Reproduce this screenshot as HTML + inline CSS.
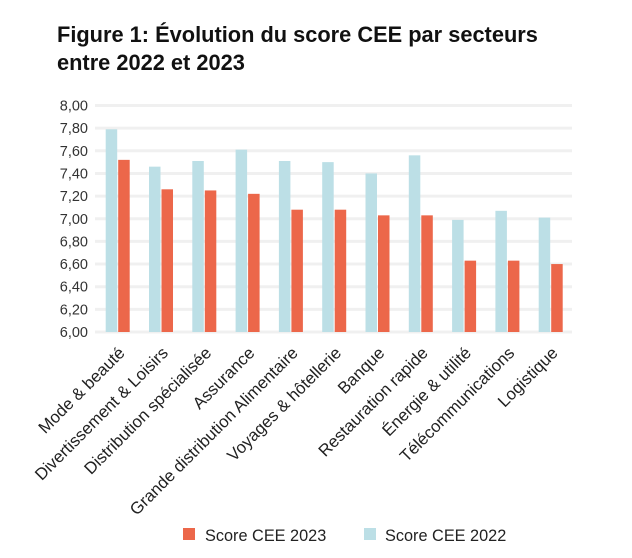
<!DOCTYPE html>
<html><head><meta charset="utf-8"><style>
body{margin:0;background:#fff;font-family:"Liberation Sans",Arial,sans-serif;}
#wrap{position:relative;width:632px;height:558px;overflow:hidden;}
h1{position:absolute;left:57px;top:21px;margin:0;font-size:21.8px;line-height:28px;font-weight:bold;color:#111;}
</style></head><body>
<div id="wrap">
<h1>Figure 1: Évolution du score CEE par secteurs<br>entre 2022 et 2023</h1>
<svg id="chart" width="632" height="558" style="position:absolute;left:0;top:0"></svg>
</div>
<script>
const categories=["Mode & beauté","Divertissement & Loisirs","Distribution spécialisée","Assurance","Grande distribution Alimentaire","Voyages & hôtellerie","Banque","Restauration rapide","Énergie & utilité","Télécommunications","Logistique"];
const values2022=[7.79,7.46,7.51,7.61,7.51,7.50,7.40,7.56,6.99,7.07,7.01];
const values2023=[7.52,7.26,7.25,7.22,7.08,7.08,7.03,7.03,6.63,6.63,6.60];
const yTicks=[6.0,6.2,6.4,6.6,6.8,7.0,7.2,7.4,7.6,7.8,8.0];
const NS="http://www.w3.org/2000/svg";
const svg=document.getElementById('chart');
const y0=332,y1=105.5,vmin=6,vmax=8;
function y(v){return y0-(v-vmin)/(vmax-vmin)*(y0-y1);}
function gx(i){return 105.7+i*43.3;}
function mk(t,a){const e=document.createElementNS(NS,t);for(const k in a)e.setAttribute(k,a[k]);svg.appendChild(e);return e;}
yTicks.forEach(t=>{
 const l=mk('line',{x1:95,x2:572,y1:y(t),y2:y(t),stroke:'#f0f0f0','stroke-width':3});
 
 
 const tx=mk('text',{x:88,y:y(t)+5,'text-anchor':'end','font-size':14.5,fill:'#333'});
 tx.textContent=t.toFixed(2).replace('.',',');
 
 
});
categories.forEach((c,i)=>{
 const x=gx(i);
 const b=mk('rect',{x:x,y:y(values2022[i]),width:11.5,height:y0-y(values2022[i]),fill:'#bcdfe6'});
 
 
 const r=mk('rect',{x:x+12.5,y:y(values2023[i]),width:11.5,height:y0-y(values2023[i]),fill:'#ec674a'});
 
 
 const cx=x+20,cy=354;
 const t=mk('text',{x:cx,y:cy,'text-anchor':'end','font-size':16.8,fill:'#222',transform:`rotate(-45 ${cx} ${cy})`});
 t.textContent=c;
 
 
});
const lr=mk('rect',{x:183,y:528,width:12,height:12,fill:'#ec674a'});


const lt=mk('text',{x:205,y:541,'font-size':16.3,fill:'#222'});lt.textContent='Score CEE 2023';


const lb=mk('rect',{x:364,y:528,width:12,height:12,fill:'#bcdfe6'});


const lt2=mk('text',{x:385,y:541,'font-size':16.3,fill:'#222'});lt2.textContent='Score CEE 2022';


</script>
</body></html>
